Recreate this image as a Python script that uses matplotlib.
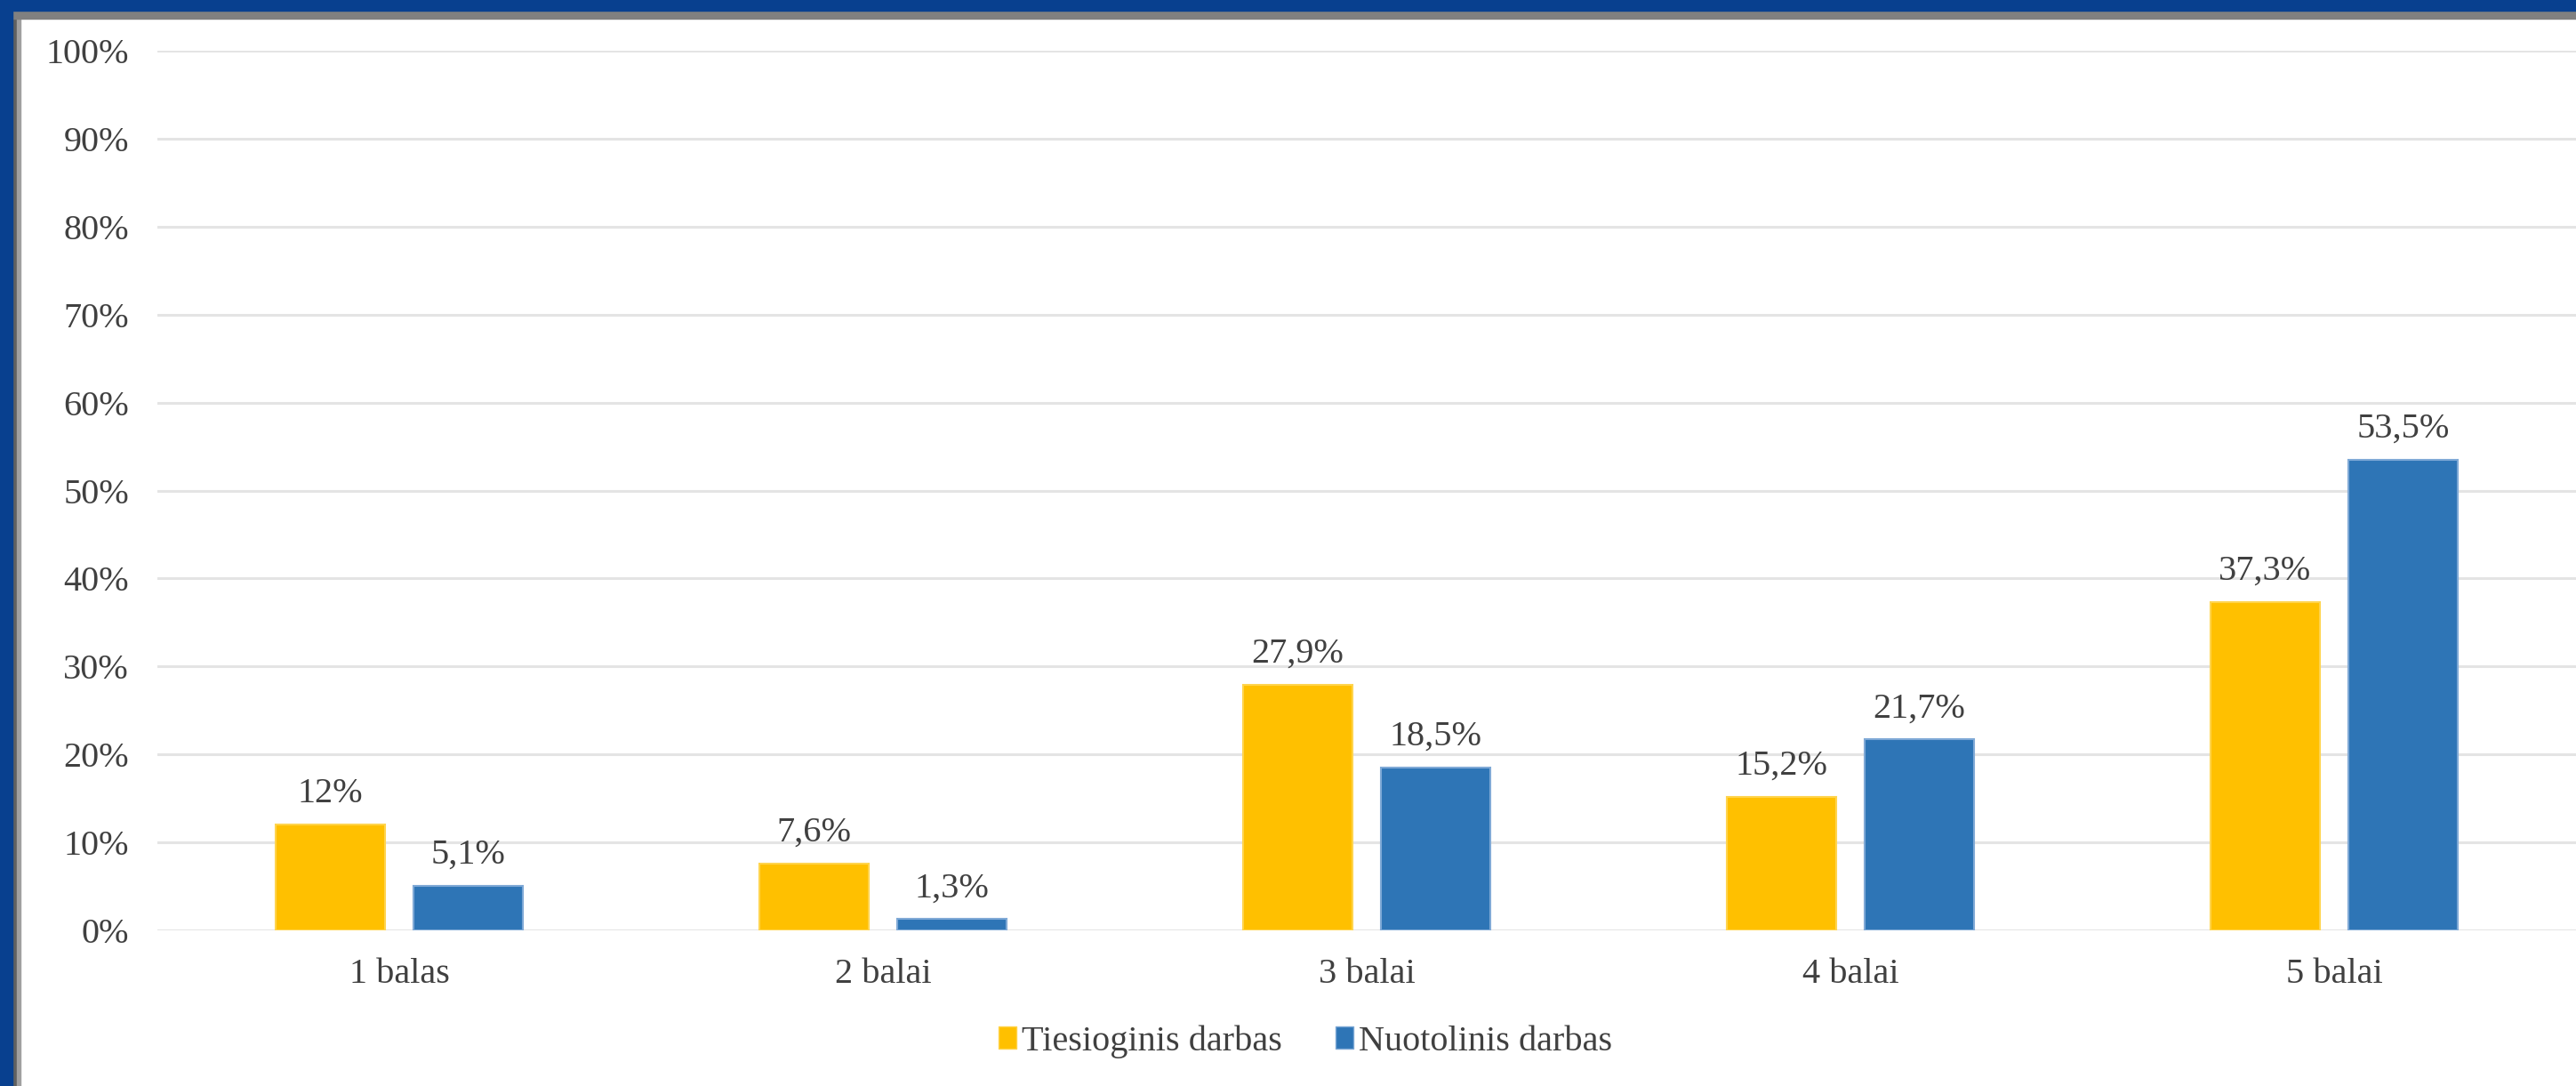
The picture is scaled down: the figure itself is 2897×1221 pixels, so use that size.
import numpy as np
import matplotlib.pyplot as plt
import matplotlib.patches as mpatches

CATEGORIES = ["1 balas", "2 balai", "3 balai", "4 balai", "5 balai"]
SERIES = ["Tiesioginis darbas", "Nuotolinis darbas"]
TIESIOGINIS = [12.0, 7.6, 27.9, 15.2, 37.3]
NUOTOLINIS = [5.1, 1.3, 18.5, 21.7, 53.5]
LABELS_T = ["12%", "7,6%", "27,9%", "15,2%", "37,3%"]
LABELS_N = ["5,1%", "1,3%", "18,5%", "21,7%", "53,5%"]
Y_TICKS = [0, 10, 20, 30, 40, 50, 60, 70, 80, 90, 100]

COLORS = ["#FFC000", "#2E75B6"]
EDGES = ["#FFD44D", "#7FA9D6"]
TEXT = "#404040"

plt.rcParams["font.family"] = ["Liberation Serif", "DejaVu Serif"]

W, H = 2897, 1221
fig = plt.figure(figsize=(W / 100, H / 100), dpi=100)
ax = fig.add_axes([177 / W, (H - 1046) / H, 1 - 177 / W, (1046 - 57) / H])

x = np.arange(len(CATEGORIES))
width = 0.225
off = 0.1425

for vals, labs, dx, c, e in [(TIESIOGINIS, LABELS_T, -off, COLORS[0], EDGES[0]),
                             (NUOTOLINIS, LABELS_N, off, COLORS[1], EDGES[1])]:
    bars = ax.bar(x + dx, vals, width, color=c, edgecolor=e, linewidth=1.5, zorder=3)
    for b, lab in zip(bars, labs):
        ax.annotate(lab, (b.get_x() + b.get_width() / 2, b.get_height()),
                    xytext=(0, 18), textcoords="offset points",
                    ha="center", va="baseline", fontsize=29, color=TEXT)

ax.set_xlim(-0.5, 4.5)
ax.set_ylim(0, 100)
ax.set_yticks(Y_TICKS)
ax.set_yticklabels([f"{t}%" for t in Y_TICKS])
ax.set_xticks(x)
ax.set_xticklabels(CATEGORIES)
ax.tick_params(axis="both", length=0, labelsize=29, labelcolor=TEXT)
ax.tick_params(axis="y", pad=23)
ax.tick_params(axis="x", pad=22)
ax.grid(axis="y", color="#E4E4E4", linewidth=2.2, zorder=0)
ax.set_axisbelow(True)
for s in ax.spines.values():
    s.set_visible(False)

handles = [mpatches.Patch(facecolor=COLORS[i], edgecolor=EDGES[i], label=SERIES[i])
           for i in range(2)]
fig.legend(handles=handles, loc="center", bbox_to_anchor=(1468 / W, (H - 1171) / H),
           ncol=2, frameon=False, fontsize=29, handlelength=0.5, handleheight=0.55,
           handletextpad=0.15, columnspacing=1.5, labelcolor=TEXT)

# frame around the picture
tf = fig.transFigure
fig.patches.append(mpatches.Rectangle((0, 0), 14 / W, 1, color="#08408F", transform=tf, zorder=10))
fig.patches.append(mpatches.Rectangle((0, (H - 12) / H), 1, 12 / H, color="#08408F", transform=tf, zorder=10))
fig.patches.append(mpatches.Rectangle((14 / W, 0), 5 / W, (H - 12) / H, color="#606060", transform=tf, zorder=9))
fig.patches.append(mpatches.Rectangle((19 / W, 0), 4 / W, (H - 12) / H, color="#A0A0A0", transform=tf, zorder=9))
fig.patches.append(mpatches.Rectangle((14 / W, (H - 21) / H), 1, 9 / H, color="#808080", transform=tf, zorder=9))

fig.savefig("out.png", dpi=100)
